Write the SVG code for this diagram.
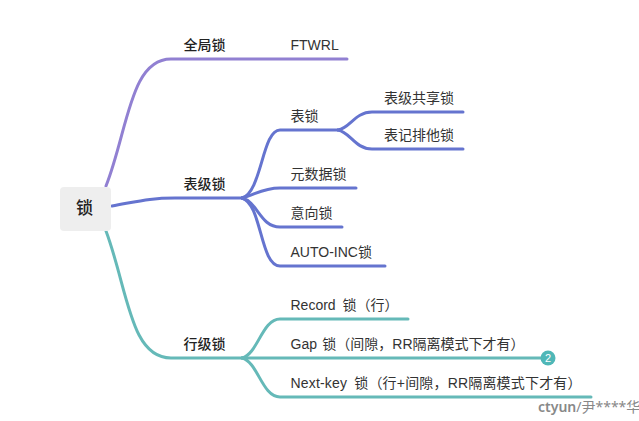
<svg xmlns="http://www.w3.org/2000/svg" width="639" height="421" viewBox="0 0 639 421">
<style>
text{font-family:"Liberation Sans","Noto Sans CJK SC",sans-serif;font-size:14px;fill:#333}
.b{font-family:"Noto Sans CJK SC","Liberation Sans",sans-serif;font-weight:500;fill:#222}
.s{word-spacing:3px}
path{fill:none;stroke-width:3;stroke-linecap:round}
.p{stroke:#9180d2}.u{stroke:#6574cf}.t{stroke:#65b9b8}
</style>
<rect width="639" height="421" fill="#fff"/>
<g id="connectors">
<path class="p" d="M106 186C128 130 130 59 171 59H347"/>
<path class="u" d="M112 206C140 201 150 198 175 198H242"/>
<path class="t" d="M106 231C128 290 130 358 171 358H242"/>
<path class="u" d="M242 198C262 192 262 130 280 130H338"/>
<path class="u" d="M338 130C350 128 355 112 372 112H463"/>
<path class="u" d="M338 130C350 132 355 149 372 149H463"/>
<path class="u" d="M242 198C255 195 262 188 280 188H356"/>
<path class="u" d="M242 198C258 202 260 227 280 227H342"/>
<path class="u" d="M242 198C262 204 260 266 280 266H385"/>
<path class="t" d="M242 358C258 354 262 319 280 319H408"/>
<path class="t" d="M242 358H541"/>
<path class="t" d="M242 358C258 362 262 397 280 397H591"/>
</g>
<g id="root"><rect x="60" y="187" width="51" height="44" rx="4" fill="#eee"/><text class="b" x="84.500" y="214" text-anchor="middle" style="font-size:17px">锁</text></g>
<g id="n-global"><text class="b" x="183.500" y="50">全局锁</text></g>
<g id="n-ftwrl"><text x="290.500" y="50">FTWRL</text></g>
<g id="n-table-level"><text class="b" x="183.500" y="189">表级锁</text></g>
<g id="n-table"><text x="290.500" y="121">表锁</text></g>
<g id="n-shared"><text x="384" y="103">表级共享锁</text></g>
<g id="n-exclusive"><text x="384" y="140">表记排他锁</text></g>
<g id="n-meta"><text x="290.500" y="179">元数据锁</text></g>
<g id="n-intent"><text x="290.500" y="218">意向锁</text></g>
<g id="n-auto"><text x="290.500" y="257">AUTO-INC锁</text></g>
<g id="n-row-level"><text class="b" x="183.500" y="349">行级锁</text></g>
<g id="n-record"><text class="s" x="290.500" y="310">Record 锁（行）</text></g>
<g id="n-gap"><text x="290.500" y="349" style="word-spacing:1.500px">Gap 锁（间隙，RR隔离模式下才有）</text></g>
<g id="n-badge"><circle cx="548" cy="358" r="7.500" fill="#4fb7b7"/><text x="548" y="362" text-anchor="middle" style="font-size:11px;fill:#fff">2</text></g>
<g id="n-nextkey"><text class="s" x="290.500" y="388" style="letter-spacing:.18px">Next-key 锁（行+间隙，RR隔离模式下才有）</text></g>
<g id="watermark"><text x="538" y="412" style="font-family:'Noto Sans','Noto Sans CJK SC',sans-serif;fill:#888;font-size:14px;font-weight:600">ctyun<tspan style="font-weight:400">/尹****华</tspan></text></g>
</svg>
